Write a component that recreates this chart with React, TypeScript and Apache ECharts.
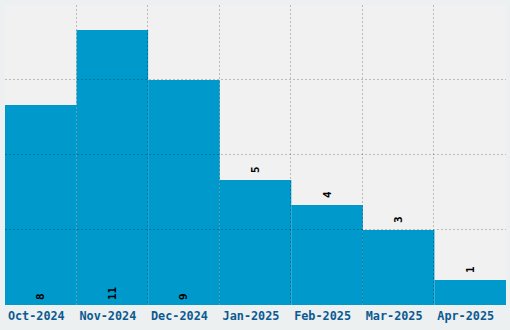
import React, { useEffect, useRef } from "react";
import * as echarts from "echarts";

const categories = ["Oct-2024", "Nov-2024", "Dec-2024", "Jan-2025", "Feb-2025", "Mar-2025", "Apr-2025"];
const values = [8, 11, 9, 5, 4, 3, 1];
const labelInside = [true, true, true, false, false, false, false];
const yTicks = [3, 6, 9];

export default function App() {
  const ref = useRef<HTMLDivElement>(null);
  useEffect(() => {
    const chart = echarts.init(ref.current!, undefined, { renderer: "svg" });
    const gridData: number[][] = [
      ...yTicks.map((v) => [0, v, 0]),
      ...categories.slice(0, -1).map((_, i) => [i, 0, 1]),
    ];
    const lineStyle = { stroke: "rgba(0,0,0,0.22)", lineWidth: 1, lineDash: [2, 2] };
    chart.setOption({
      animation: false,
      backgroundColor: "#edf0f0",
      grid: { left: 5, right: 4, top: 5, bottom: 25, show: true, backgroundColor: "#f1f1f1", borderWidth: 0 },
      xAxis: {
        type: "category",
        data: categories,
        axisLine: { show: false },
        axisTick: { show: false },
        splitLine: { show: false },
        axisLabel: {
          interval: 0,
          fontFamily: "DejaVu Sans Mono",
          fontWeight: "bold",
          fontSize: 11.8,
          color: "#0b5a92",
          margin: 5,
          padding: [0, 9, 0, 0],
        },
      },
      yAxis: {
        type: "value",
        min: 0,
        max: 12,
        interval: 3,
        axisLabel: { show: false },
        axisLine: { show: false },
        axisTick: { show: false },
        splitLine: { show: false },
      },
      series: [
        {
          type: "bar",
          barCategoryGap: "0%",
          z: 2,
          itemStyle: { color: "#0099cc" },
          data: values.map((v, i) => ({
            value: v,
            label: {
              show: true,
              position: labelInside[i] ? "insideBottom" : "top",
              distance: labelInside[i] ? 5 : 7,
              rotate: 90,
              align: "left",
              verticalAlign: "middle",
              fontFamily: "DejaVu Sans Mono",
              fontWeight: "bold",
              fontSize: 11,
              color: "#000",
            },
          })),
        },
        {
          type: "custom",
          z: 10,
          silent: true,
          data: gridData,
          renderItem: (params: any, api: any) => {
            const cs = params.coordSys;
            const kind = api.value(2);
            if (kind === 0) {
              const y = Math.round(api.coord([0, api.value(1)])[1]) - 0.5;
              return { type: "line", shape: { x1: cs.x, y1: y, x2: cs.x + cs.width, y2: y }, style: lineStyle };
            }
            const x = Math.round(api.coord([api.value(0), 0])[0] + api.size([1, 0])[0] / 2) - 0.5;
            return { type: "line", shape: { x1: x, y1: cs.y, x2: x, y2: cs.y + cs.height }, style: lineStyle };
          },
        },
      ],
    });
    return () => chart.dispose();
  }, []);
  return <div ref={ref} style={{ width: 510, height: 330, position: "absolute", left: 0, top: 0 }} />;
}
